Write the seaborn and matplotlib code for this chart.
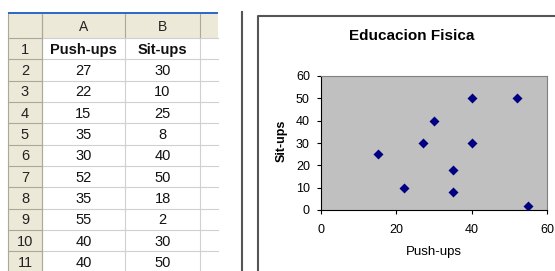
import matplotlib
matplotlib.use("Agg")
import matplotlib.pyplot as plt
import seaborn as sns
import pandas as pd
from matplotlib.patches import Rectangle

# datos de la hoja
col_letras = ["A", "B"]
encabezados = ["Push-ups", "Sit-ups"]
push_ups = [27, 22, 15, 35, 30, 52, 35, 55, 40, 40]
sit_ups = [30, 10, 25, 8, 40, 50, 18, 2, 30, 50]
titulo = "Educacion Fisica"
x_ticks = [0, 20, 40, 60]
y_ticks = [0, 10, 20, 30, 40, 50, 60]

df = pd.DataFrame({"Push-ups": push_ups, "Sit-ups": sit_ups})

plt.rcParams["font.family"] = ["Liberation Sans", "DejaVu Sans"]

W, H = 555, 271
fig = plt.figure(figsize=(W / 100, H / 100), dpi=100)

# -----------------------------
# fondo en pixeles: hoja de calculo + marcos
# -----------------------------
bg = fig.add_axes([0, 0, 1, 1])
bg.set_xlim(0, W)
bg.set_ylim(H, 0)
bg.axis("off")

x_cols = [8, 42, 125, 200, 218]
y_head = (14, 38)
row_h = 21.33
n_rows = len(push_ups) + 1
y_rows = [y_head[1] + i * row_h for i in range(n_rows + 1)]

beige = "#ECE9D8"
bg.add_patch(Rectangle((x_cols[0], y_head[0]), x_cols[-1] - x_cols[0], y_head[1] - y_head[0],
                       color=beige, lw=0))
bg.add_patch(Rectangle((x_cols[0], y_head[1]), x_cols[1] - x_cols[0], H - y_head[1],
                       color=beige, lw=0))
# linea azul superior
bg.add_patch(Rectangle((x_cols[0], 12), x_cols[-1] - x_cols[0], 2.2, color="#3169C6", lw=0))

# grilla
for y in y_rows:
    bg.plot([x_cols[0], x_cols[1]], [y, y], color="#ACA899", lw=0.8)
    bg.plot([x_cols[1], x_cols[-1]], [y, y], color="#D0D0D0", lw=0.8)
for x in x_cols[1:-1]:
    bg.plot([x, x], [y_head[0], y_head[1]], color="#ACA899", lw=0.8)
    bg.plot([x, x], [y_head[1], H], color="#D0D0D0", lw=0.8)
bg.plot([x_cols[0], x_cols[0]], [y_head[0], H], color="#ACA899", lw=0.8)
bg.plot([x_cols[1], x_cols[1]], [y_head[0], H], color="#ACA899", lw=0.8)

# textos de la hoja
for i, letra in enumerate(col_letras):
    bg.text((x_cols[i + 1] + x_cols[i + 2]) / 2, sum(y_head) / 2 + 1, letra,
            ha="center", va="center", fontsize=10, color="#222222")
for r in range(n_rows):
    yc = (y_rows[r] + y_rows[r + 1]) / 2 + 1
    bg.text((x_cols[0] + x_cols[1]) / 2, yc, str(r + 1), ha="center", va="center",
            fontsize=10.5, color="#222222")
    if r == 0:
        valores = encabezados
        peso = "bold"
    else:
        valores = [str(push_ups[r - 1]), str(sit_ups[r - 1])]
        peso = "normal"
    for c, v in enumerate(valores):
        bg.text((x_cols[c + 1] + x_cols[c + 2]) / 2, yc, v, ha="center", va="center",
                fontsize=10.5, fontweight=peso, color="#111111")

# separador y marco del grafico
bg.plot([242, 242], [12, H], color="#555555", lw=1.5)
bg.plot([258, 258, W], [H, 16, 16], color="#555555", lw=1.5)

# -----------------------------
# grafico de dispersion
# -----------------------------
left, right, top, bottom = 321, 547, 76, 210
ax = fig.add_axes([left / W, 1 - bottom / H, (right - left) / W, (bottom - top) / H])
sns.scatterplot(data=df, x="Push-ups", y="Sit-ups", marker="D", color="#000080",
                s=26, linewidth=0, ax=ax, zorder=3)
ax.set_facecolor("#C0C0C0")
ax.set_xlim(0, 60)
ax.set_ylim(0, 60)
ax.set_xticks(x_ticks)
ax.set_yticks(y_ticks)
ax.tick_params(direction="out", length=3, width=0.8, labelsize=9, colors="black")
ax.tick_params(axis="x", pad=7)
ax.tick_params(axis="y", pad=5)
for s in ["top", "right"]:
    ax.spines[s].set_color("#808080")
for s in ["left", "bottom"]:
    ax.spines[s].set_color("black")
ax.set_xlabel("")
ax.set_ylabel("")

fig.text(411.5 / W, 1 - 36 / H, titulo, ha="center", va="center", fontsize=11,
         fontweight="bold")
fig.text(434 / W, 1 - 252 / H, "Push-ups", ha="center", va="center", fontsize=9.5)
fig.text(282 / W, 1 - 141 / H, "Sit-ups", ha="center", va="center", fontsize=9,
         fontweight="bold", rotation=90)

plt.savefig("out.png", dpi=100)
